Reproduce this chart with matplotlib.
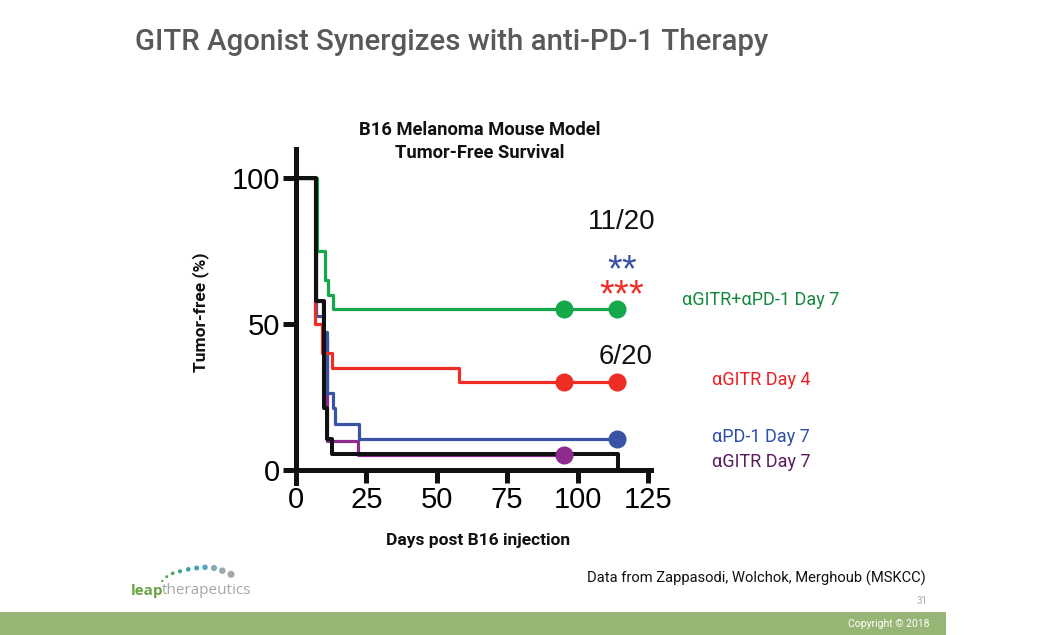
import matplotlib
matplotlib.use("Agg")
import matplotlib.pyplot as plt
from matplotlib.patches import Rectangle

plt.rcParams["mathtext.fontset"] = "custom"
plt.rcParams["mathtext.rm"] = "Liberation Sans"

# ---------------- data ----------------
black_t = [0, 7.0, 10.0, 10.9, 12.8, 114.2]
black_y = [100, 57.9, 21.1, 10.5, 5.3, 0]

green_t = [0, 7.6, 10.3, 11.2, 13.2, 114]
green_y = [100, 75, 65, 60, 55, 55]
green_cens_t = [95, 114]
green_cens_y = [55, 55]

red_t = [0, 6.6, 9.4, 12.9, 58, 114]
red_y = [100, 50, 40, 35, 30, 30]
red_cens_t = [95, 114]
red_cens_y = [30, 30]

blue_t = [0, 7.2, 9.5, 10.9, 13.0, 13.9, 22.4, 114]
blue_y = [100, 52.6, 47.4, 26.3, 21.1, 15.8, 10.5, 10.5]
blue_cens_t = [114]
blue_cens_y = [10.5]

purple_t = [0, 7.0, 9.6, 10.9, 21.9, 95]
purple_y = [100, 57.9, 45, 10, 5, 5]
purple_cens_t = [95]
purple_cens_y = [5]

x_ticks = [0, 25, 50, 75, 100, 125]
y_ticks = [0, 50, 100]

labels = ["\u03b1GITR+\u03b1PD-1 Day 7", "\u03b1GITR Day 4", "\u03b1PD-1 Day 7", "\u03b1GITR Day 7"]

# ---------------- style ----------------
W, H = 1046, 635
def fx(x): return x / W
def fy(y): return 1 - y / H

C_GREEN = "#14a84b"
C_RED = "#ee2e24"
C_BLUE = "#3953a4"
C_PURPLE = "#8e2b8e"
C_BLACK = "#111111"

fig = plt.figure(figsize=(W / 100, H / 100), dpi=100)
fig.patch.set_facecolor("white")

# background / decoration layer (pixel coordinates)
lax = fig.add_axes([0, 0, 1, 1], zorder=-1)
lax.set_xlim(0, W)
lax.set_ylim(H, 0)
lax.axis("off")
lax.add_patch(Rectangle((0, 612), 946, 23, facecolor="#97b676", edgecolor="none"))
dot_x = [162.3, 166.7, 172.7, 180, 188.3, 196.7, 205, 214, 222.3, 231]
dot_y = [581, 576.7, 573.3, 571.3, 569.3, 568, 567.3, 568, 570.7, 574.3]
dot_s = [3, 5, 7, 9, 11, 13, 16, 19, 22, 26]
dot_c = ["#6aa343", "#5fa552", "#4fa56a", "#42a382", "#3fa39c", "#45a3b8",
         "#57a5c8", "#7ea8bb", "#97a9ad", "#a5aaa8"]
lax.scatter(dot_x, dot_y, s=dot_s, c=dot_c, edgecolors="none")

ax = fig.add_axes([0.2803, 0.2392, 0.3419, 0.5265])
ax.set_xlim(-1, 126)
ax.set_ylim(-4.5, 110)

lw = 2.3
ax.step(purple_t, purple_y, where="post", color=C_PURPLE, lw=lw, zorder=2)
ax.step(blue_t, blue_y, where="post", color=C_BLUE, lw=lw, zorder=3)
ax.step(red_t, red_y, where="post", color=C_RED, lw=lw, zorder=4)
ax.step(green_t, green_y, where="post", color=C_GREEN, lw=lw, zorder=5)
ax.step(black_t, black_y, where="post", color=C_BLACK, lw=2.9, zorder=6)

ms = 12
ax.plot(green_cens_t, green_cens_y, "o", color=C_GREEN, ms=ms, zorder=7, clip_on=False)
ax.plot(red_cens_t, red_cens_y, "o", color=C_RED, ms=ms, zorder=7, clip_on=False)
ax.plot(blue_cens_t, blue_cens_y, "o", color=C_BLUE, ms=ms, zorder=7, clip_on=False)
ax.plot(purple_cens_t, purple_cens_y, "o", color=C_PURPLE, ms=ms, zorder=7, clip_on=False)

for s in ["top", "right"]:
    ax.spines[s].set_visible(False)
ax.spines["left"].set_position(("data", 0))
ax.spines["bottom"].set_position(("data", 0))
for s in ["left", "bottom"]:
    ax.spines[s].set_linewidth(3.6)
    ax.spines[s].set_color(C_BLACK)
    ax.spines[s].set_zorder(8)

ax.set_xticks(x_ticks)
ax.set_yticks(y_ticks)
ax.tick_params(axis="both", direction="out", length=9.5, width=3.6, color=C_BLACK,
               labelsize=21, pad=2)
for lab in ax.get_xticklabels() + ax.get_yticklabels():
    lab.set_fontfamily("Liberation Sans")
ax.patch.set_alpha(0)

# ---------------- chart texts ----------------
fig.text(fx(480), fy(130), "B16 Melanoma Mouse Model", ha="center", va="center",
         fontsize=13.2, fontweight="bold", family="Roboto", color="#111111")
fig.text(fx(480), fy(153), "Tumor-Free Survival", ha="center", va="center",
         fontsize=13.2, fontweight="bold", family="Roboto", color="#111111")
fig.text(fx(201), fy(312), "Tumor-free (%)", ha="center", va="center", rotation=90,
         fontsize=12.5, fontweight="bold", family="Roboto", color="#111111")
fig.text(fx(478), fy(540), "Days post B16 injection", ha="center", va="center",
         fontsize=12.5, fontweight="bold", family="Roboto", color="#111111")

fig.text(fx(655), fy(222), "11/20", ha="right", va="center", fontsize=20,
         family="Liberation Sans", color="#111111")
fig.text(fx(653), fy(357), "6/20", ha="right", va="center", fontsize=20,
         family="Liberation Sans", color="#111111")
fig.text(fx(622), fy(270), r"$\mathrm{{*}{*}}$", ha="center", va="center", fontsize=27,
         color=C_BLUE)
fig.text(fx(622), fy(295), r"$\mathrm{{*}{*}{*}}$", ha="center", va="center", fontsize=27,
         color=C_RED)

leg_cols = ["#128a3a", "#ec1f24", "#2f4ea8", "#5b1b5f"]
leg_pos = [(682, 300), (712, 380), (712, 437), (712, 462)]
for lab, col, (x, y) in zip(labels, leg_cols, leg_pos):
    fig.text(fx(x), fy(y), lab, ha="left", va="center", fontsize=13,
             family="Roboto", color=col)

# ---------------- slide decoration ----------------
fig.text(fx(135), fy(42), "GITR Agonist Synergizes with anti-PD-1 Therapy",
         ha="left", va="center", fontsize=21.2, fontweight="medium",
         family="Roboto", color="#58595b")

fig.text(fx(587), fy(578), "Data from Zappasodi, Wolchok, Merghoub (MSKCC)",
         ha="left", va="center", fontsize=10.6, family="Roboto", color="#111111")
fig.text(fx(928), fy(601), "31", ha="right", va="center", fontsize=7,
         family="Roboto", color="#aaaaaa")
fig.text(fx(930), fy(624), "Copyright \u00a9 2018", ha="right", va="center",
         fontsize=7.5, family="Roboto", color="white")

# logo
fig.text(fx(131), fy(591), "leap", ha="left", va="center", fontsize=11,
         fontweight="bold", family="Open Sans", color="#6aa343")
fig.text(fx(162), fy(591), "therapeutics", ha="left", va="center", fontsize=11,
         family="Open Sans", color="#a3aaa3")

fig.savefig("out.png", dpi=100)
